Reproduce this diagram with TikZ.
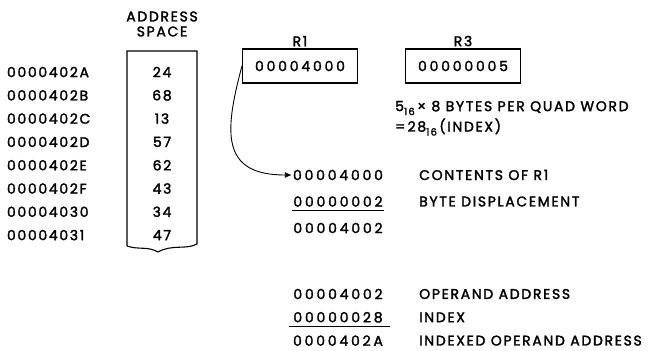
\documentclass[tikz,border=0pt]{standalone}
\usepackage{fontspec}
\setmainfont{Poppins}[LetterSpace=12, FakeBold=2]
\usetikzlibrary{arrows.meta, positioning}
\newcommand{\figfont}{\fontsize{14}{15}\selectfont}
\newcommand{\numfont}{\fontsize{14}{15}\selectfont\addfontfeatures{LetterSpace=20}}
\newcommand{\hexsub}[1]{\raisebox{-4pt}{\fontsize{10}{10}\selectfont #1}}

\begin{document}
\begin{tikzpicture}[x=1pt, y=-1pt, node distance=23.3pt, font=\figfont,
  every node/.style={inner sep=1pt},
  addr/.style={text width=78pt, align=left},
  num/.style={font=\numfont},
  regbox/.style={draw, line width=1.1pt, font=\numfont, minimum width=115pt, minimum height=34pt},
  lbl/.style={anchor=west},
  sumline/.style={line width=1pt}]
  \useasboundingbox (0,0) rectangle (649,351);

  % Address space
  \node[align=center] (title) at (162,24) {ADDRESS\\SPACE};
  \draw[line width=1.1pt] (127,246) -- (127,51) -- (197,51) -- (197,244)
    .. controls (186,250) and (172,244) .. (158,252)
    .. controls (148,246) and (138,250) .. (127,246);

  \node[addr] (a0) at (46,72) {0000402A};
  \node[addr, below of=a0] (a1) {0000402B};
  \node[addr, below of=a1] (a2) {0000402C};
  \node[addr, below of=a2] (a3) {0000402D};
  \node[addr, below of=a3] (a4) {0000402E};
  \node[addr, below of=a4] (a5) {0000402F};
  \node[addr, below of=a5] (a6) {00004030};
  \node[addr, below of=a6] (a7) {00004031};

  \node (v0) at (162,72) {24};
  \node[below of=v0] (v1) {68};
  \node[below of=v1] (v2) {13};
  \node[below of=v2] (v3) {57};
  \node[below of=v3] (v4) {62};
  \node[below of=v4] (v5) {43};
  \node[below of=v5] (v6) {34};
  \node[below of=v6] (v7) {47};

  % Registers
  \node[regbox] (r1) at (300,66) {00004000};
  \node[above=1pt of r1] (r1name) {R1};
  \node[regbox] (r3) at (463,66) {00000005};
  \node[above=1pt of r3] (r3name) {R3};

  \node[lbl] (calc1) at (394,108) {5\hexsub{16}\,× 8 BYTES PER QUAD WORD};
  \node[lbl] (calc2) at (394,127) {=\,28\hexsub{16}\,(INDEX)};

  % Operand address
  \node[num] (s1) at (338,175) {00004000};
  \node[num, below of=s1, node distance=26.5pt] (s2) {00000002};
  \node[num, below of=s2, node distance=26.5pt] (s3) {00004002};
  \draw[sumline] ([yshift=-3pt]s2.south west) -- ([yshift=-3pt]s2.south east);
  \node[lbl] (t1) at (418,175) {CONTENTS OF R1};
  \node[lbl] (t2) at (418,201.5) {BYTE DISPLACEMENT};

  \draw[-{Latex[length=7pt, width=6pt]}, line width=0.9pt] (r1.west) to[out=-105, in=180, looseness=1.5] (s1.west);

  % Indexed operand address
  \node[num] (i1) at (338,294) {00004002};
  \node[num, below of=i1] (i2) {00000028};
  \node[num, below of=i2] (i3) {0000402A};
  \draw[sumline] ([xshift=-3pt, yshift=-3pt]i2.south west) -- ([xshift=6pt, yshift=-3pt]i2.south east);
  \node[lbl] (u1) at (418,294) {OPERAND ADDRESS};
  \node[lbl] (u2) at (418,317.3) {INDEX};
  \node[lbl] (u3) at (418,340.6) {INDEXED OPERAND ADDRESS};
\end{tikzpicture}
\end{document}
